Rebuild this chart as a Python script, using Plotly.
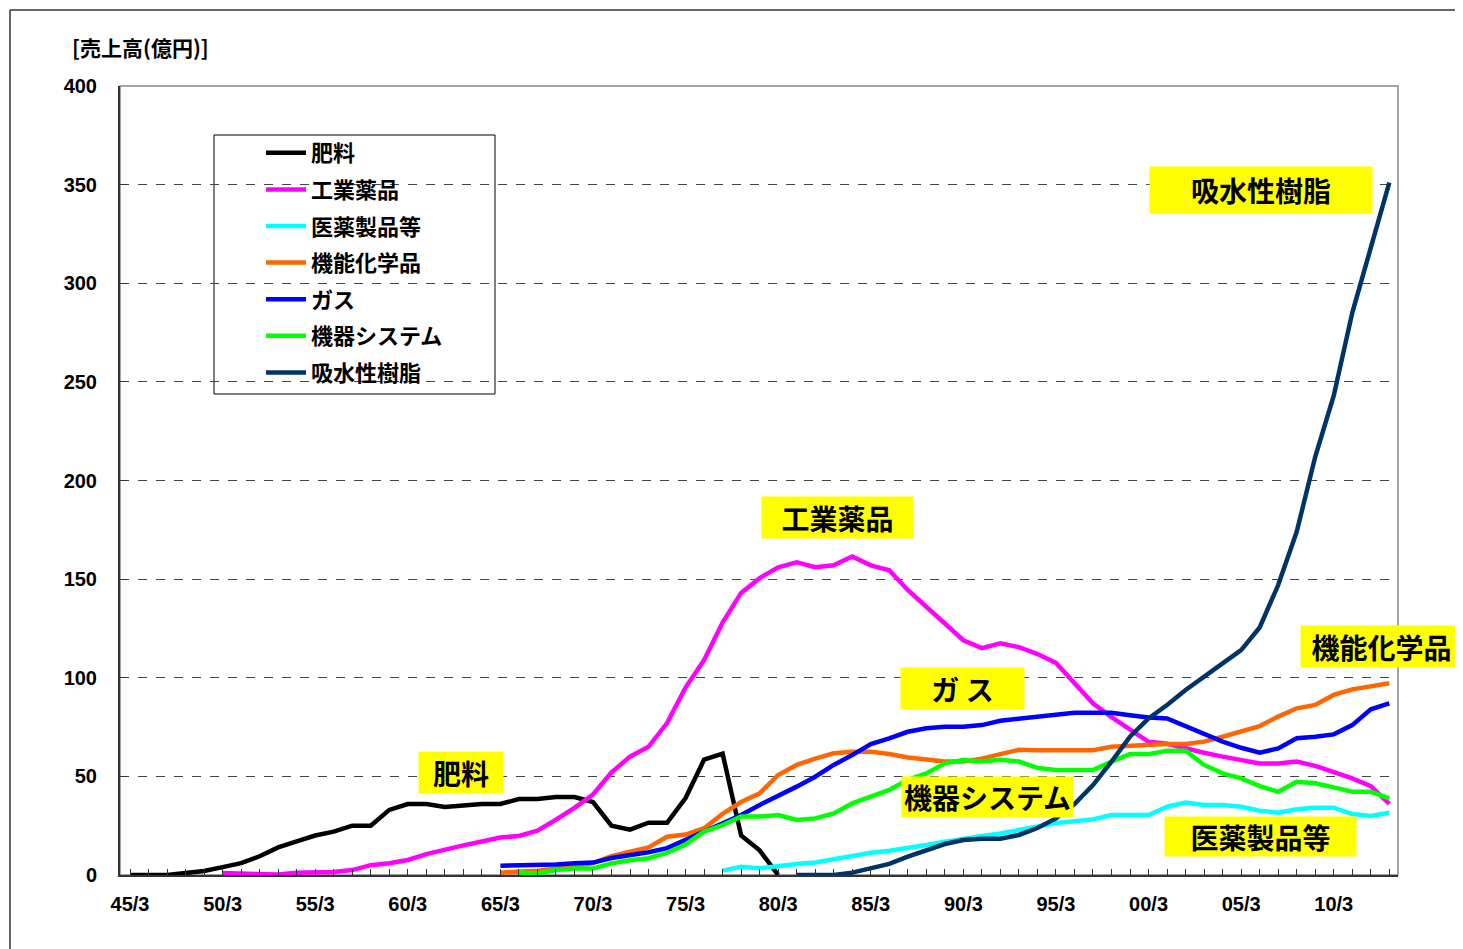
import plotly.graph_objects as go

# ---------------- data ----------------
years = list(range(1945, 2014))
tick_years = list(range(1945, 2011, 5))
tick_labels = ["45/3", "50/3", "55/3", "60/3", "65/3", "70/3", "75/3",
               "80/3", "85/3", "90/3", "95/3", "00/3", "05/3", "10/3"]

names = ["肥料", "工業薬品", "医薬製品等", "機能化学品", "ガス", "機器システム", "吸水性樹脂"]
colors = ["#000000", "#FF00FF", "#00FFFF", "#FF6600", "#0000FF", "#00FF00", "#003366"]

fertilizer_start = 1945
fertilizer = [0, 0, 0, 1, 2, 4, 6, 9.5, 14, 17, 20, 22, 25, 25, 33, 36, 36, 34.5, 35.5, 36,
              36, 38.5, 38.5, 39.5, 39.5, 37, 25, 23, 26.5, 26.5, 39, 58.5, 61.5, 20, 12.5, 0]

industrial_start = 1950
industrial = [1, 0.8, 0.3, 0.2, 1.2, 1.5, 1.5, 2.5, 5, 6, 7.6, 10.6, 13, 15, 17, 19, 19.8, 22.5,
              28, 34, 40.8, 52, 60, 65, 77, 95, 109, 128, 143, 150.5, 156, 158.5, 156, 157,
              161.5, 157, 154.5, 144.5, 136, 127.5, 119, 115, 117.5, 115.5, 112, 107.5, 97, 87,
              80, 74, 67.5, 66.5, 64, 62, 60, 58, 56.5, 56.5, 57.5, 55.3, 52.4, 49, 45, 36]

pharma_start = 1977
pharma = [2.2, 4.2, 3.4, 4.6, 5.6, 6.3, 8, 9.3, 11.3, 12.3, 13.5, 15.2, 16.9, 18.6, 19.8, 21,
          22.8, 24.7, 26.4, 27.3, 28.2, 30.4, 30.4, 30.4, 34.6, 36.7, 35.5, 35.5, 34.6, 32.6,
          31.6, 33.3, 34.1, 34.1, 30.9, 29.9, 31.6]

functional_start = 1965
functional = [1.2, 1.6, 2.2, 3.2, 4.3, 6, 9.6, 11.8, 14, 19.4, 20.5, 23.7, 31, 37, 41.4, 50.7,
              55.8, 59, 61.7, 62.5, 62.5, 61.3, 59.6, 58.6, 57.5, 57.5, 59, 61.3, 63.5, 63.3,
              63.3, 63.3, 63.3, 65, 65.5, 65.7, 66.4, 66.4, 67.6, 70.1, 73, 75.5, 80.3, 84.5,
              86.2, 91.3, 94.1, 95.8, 97.2]

gas_start = 1965
gas = [4.7, 4.8, 5.1, 5.3, 6, 6.3, 8.6, 10, 11.5, 13.6, 17.7, 22, 26, 30.4, 35.5, 40, 44.8,
       49.8, 55.8, 60.8, 66.4, 69.3, 72.6, 74.4, 75.2, 75.2, 76, 78.2, 79.2, 80.3, 81, 82.3,
       82.3, 82.3, 81, 79.9, 79.4, 75.5, 71.8, 67.6, 64.5, 62, 64.2, 69.3, 70.1, 71.3, 76, 84, 87]

equipment_start = 1966
equipment = [1.2, 0.8, 2.5, 3.3, 3.3, 5.9, 7.5, 8.5, 11.2, 15.5, 22, 25.3, 29.6, 29.6, 30.4,
             27.9, 28.7, 31.2, 36.3, 39.7, 43.1, 48.2, 51.5, 56.6, 58.3, 57.5, 58.4, 57.5, 54.3,
             53.2, 53.2, 53.2, 57.5, 61.3, 61.3, 63, 63, 55.8, 51.5, 49, 45.1, 42.2, 47.3, 46.5,
             44.4, 42.2, 42.2, 38.9]

sap_start = 1981
sap = [0, 0, 0, 1.2, 3.4, 5.6, 9.3, 12.7, 15.7, 17.7, 18.4, 18.4, 20.3, 23.8, 28.7, 36, 45.6,
       57.5, 70.1, 79.4, 86.2, 93.8, 100.9, 107.3, 114, 125.5, 147, 174, 212, 243, 285, 317, 351]

series = [(fertilizer_start, fertilizer), (industrial_start, industrial), (pharma_start, pharma),
          (functional_start, functional), (gas_start, gas), (equipment_start, equipment),
          (sap_start, sap)]

label_texts = ["肥料", "工業薬品", "ガ ス", "機器システム", "医薬製品等", "機能化学品", "吸水性樹脂"]
label_x = [1962.87, 1983.23, 1989.98, 1991.33, 2006.07, 2012.6, 2006.07]
label_y = [52.2, 181, 94.8, 39.5, 19.3, 115.6, 347.3]
label_w = [84, 151, 123, 171, 191, 161, 222]
label_h = [41, 41, 41, 40, 39, 41, 46]

# ---------------- figure ----------------
JP = "Noto Sans CJK JP"
fig = go.Figure()

for i, (start, vals) in enumerate(series):
    ys = [None] * len(years)
    for k, v in enumerate(vals):
        ys[start - years[0] + k] = v
    fig.add_trace(go.Scatter(
        x=years, y=ys, mode="lines", name="<b>%s</b>" % names[i],
        line=dict(color=colors[i], width=4.5),
        connectgaps=False, legendgroup=names[i],
    ))

for t, x, y, w, h in zip(label_texts, label_x, label_y, label_w, label_h):
    fig.add_annotation(x=x, y=y, xref="x", yref="y", text="<b>%s</b>" % t,
                       showarrow=False, bgcolor="#FFFF00", width=w, height=h,
                       borderpad=0, font=dict(family=JP, size=28, color="#000000"))

fig.add_annotation(x=(70 - 120) / 1278, y=(875 - 47) / 789, xref="paper", yref="paper",
                   xanchor="left", yanchor="middle", text="<b>[売上高(億円)]</b>",
                   showarrow=False, font=dict(family=JP, size=21, color="#000000"))

# plot border (gray), legend box, outer frame
fig.add_shape(type="rect", xref="paper", yref="paper", x0=0, x1=1, y0=0, y1=1,
              line=dict(color="#888888", width=1.5), layer="below")
fig.add_shape(type="rect", xref="paper", yref="paper",
              x0=(214 - 120) / 1278, x1=(495 - 120) / 1278,
              y0=(875 - 394) / 789, y1=(875 - 135) / 789,
              line=dict(color="#000000", width=1), fillcolor="#FFFFFF", layer="between")
fig.add_shape(type="line", xref="paper", yref="paper",
              x0=(10 - 120) / 1278, x1=(10 - 120) / 1278, y0=(875 - 10) / 789, y1=-0.2,
              line=dict(color="#333333", width=1.5))
fig.add_shape(type="line", xref="paper", yref="paper",
              x0=(10 - 120) / 1278, x1=1.2, y0=(875 - 10) / 789, y1=(875 - 10) / 789,
              line=dict(color="#333333", width=1.5))

fig.update_layout(
    width=1455, height=941,
    margin=dict(l=112, r=65, t=78, b=74),
    paper_bgcolor="#FFFFFF", plot_bgcolor="#FFFFFF",
    showlegend=True,
    legend=dict(x=(261 - 120) / 1278, y=(875 - 132) / 789, xanchor="left", yanchor="top",
                bgcolor="rgba(0,0,0,0)", borderwidth=0, tracegroupgap=5, itemwidth=40,
                font=dict(family=JP, size=22, color="#000000"), traceorder="grouped"),
    xaxis=dict(range=[1944.46, 2013.47], tickmode="array", tickvals=tick_years,
               ticktext=["<b>%s</b>" % t for t in tick_labels],
               ticks="inside", ticklen=6, tickcolor="#333333", tickwidth=1,
               minor=dict(tickmode="linear", tick0=1945, dtick=1, ticks="inside",
                          ticklen=6, tickcolor="#333333", tickwidth=1),
               showline=True, linecolor="#333333", linewidth=2, showgrid=False,
               zeroline=False, ticklabelstandoff=10,
               tickfont=dict(family="Liberation Sans", size=20, color="#000000")),
    yaxis=dict(range=[0, 400], tickmode="linear", tick0=0, dtick=50,
               tickformat="d", showline=True, linecolor="#333333", linewidth=2,
               showgrid=True, gridcolor="#444444", griddash="dash", gridwidth=1,
               zeroline=False, ticks="inside", ticklen=7, tickcolor="#333333",
               ticklabelstandoff=17,
               tickprefix="<b>", ticksuffix="</b>",
               tickfont=dict(family="Liberation Sans", size=20, color="#000000")),
)

fig.write_html("out.html")
